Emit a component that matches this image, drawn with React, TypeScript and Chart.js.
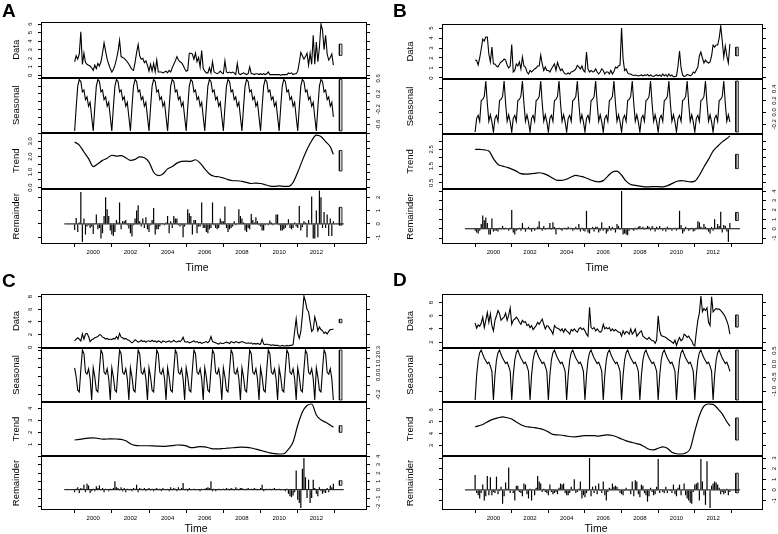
import { useEffect, useRef } from 'react';
import { Chart, registerables } from 'chart.js';

Chart.register(...registerables);

const FONT = 'Liberation Sans';
const INK = '#000000';
const RANGE_FILL = '#d3d3d3';

const START_YEAR = 1999;
const TREND_STEP = 0.25;
const yearTicks = [2000, 2002, 2004, 2006, 2008, 2010, 2012];
const rowTitles = ['Data', 'Seasonal', 'Trend', 'Remainder'];

// ---------------- Panel A ----------------
const dataA = [
  1.6, 2.3, 1.9, 2.5, 5.1, 1.3, 2.6, 1.5, 1.3, 1.2, 1.1, 0.9,
  0.6, 1.2, 0.8, 1.4, 1.1, 1.6, 2.6, 3.8, 2.8, 1.9, 1.3, 0.8,
  0.4, 0.7, 1.2, 1.9, 2.8, 4.1, 2.2, 2.1, 2.0, 1.8, 1.6, 1.3,
  1.0, 0.7, 0.6, 1.5, 2.7, 3.6, 2.3, 1.9, 2.0, 1.5, 1.7, 1.2,
  0.5, 1.3, 0.5, 1.4, 0.4, 1.8, 0.4, 0.4, 0.4, 0.3, 0.4, 0.5,
  0.3, 0.6, 0.4, 0.9, 1.3, 1.7, 2.2, 1.8, 1.6, 1.5, 1.2, 0.8,
  0.5, 0.6, 2.6, 2.6, 2.5, 1.9, 2.6, 1.6, 2.1, 1.0, 2.9, 0.8,
  0.5, 0.3, 0.3, 0.9, 0.3, 1.6, 0.4, 0.3, 0.2, 0.3, 0.5, 0.3,
  0.2, 1.7, 0.4, 0.3, 0.4, 0.3, 0.4, 0.3, 0.1, 1.4, 0.2, 0.1,
  0.2, 0.3, 0.2, 0.1, 0.2, 1.0, 0.2, 0.2, 0.1, 0.2, 0.2, 0.1,
  0.2, 0.1, 0.2, 0.1, 0.2, 0.4, 0.1, 0.1, 0.1, 0.1, 0.1, 0.1,
  0.1, 0.0, 0.1, 0.1, 0.1, 0.1, 0.3, 0.2, 0.3, 0.1, 0.2, 0.2,
  0.5, 1.5, 2.7, 2.3, 1.9, 2.2, 2.6, 1.2, 2.6, 1.3, 4.7, 1.3,
  3.9, 1.6, 3.3, 6.0, 5.3, 3.0, 4.7, 2.5, 1.8, 2.1, 2.5, 1.2,
];
const seasonalA = [-0.76, -0.15, 0.4, 0.57, 0.52, 0.25, 0.3, 0.05, 0.12, -0.12, -0.02, -0.4];
const trendA = [
  2.95, 2.75, 2.3, 1.87, 1.36, 1.54, 1.76, 1.9, 2.09, 2.04, 2.07, 1.93,
  1.76, 1.82, 1.98, 1.93, 1.65, 0.99, 0.77, 0.88, 1.21, 1.36, 1.58, 1.69,
  1.71, 1.69, 1.8, 1.58, 1.21, 0.88, 0.73, 0.7, 0.62, 0.51, 0.44, 0.44,
  0.4, 0.33, 0.26, 0.29, 0.26, 0.18, 0.09, 0.07, 0.11, 0.07, 0.07, 0.33,
  0.99, 1.76, 2.46, 3.03, 3.4, 3.3, 2.97, 2.64, 2.15,
];
const remainderA = [
  -0.45, 0.45, -0.6, 0.1, 2.4, -1.35, 0.4, -0.8, -0.2, -0.1, -0.3, -0.2,
  -0.75, 0.05, 0.7, -0.4, -0.3, -1.1, -0.7, 0.6, 2.0, 1.1, 0.6, -0.5,
  -0.8, -0.9, -0.6, 0.3, 0.1, 1.6, -0.4, 0.2, 0.2, 0.3, -0.1, -0.35,
  -0.7, -0.95, -0.1, 0.4, 1.0, 1.4, 0.2, -0.2, 0.4, -0.3, 0.5, -0.4,
  -0.6, -0.1, 0.3, 1.2, -0.8, -0.4, -0.4, -0.2, 0.05, 0.05, -0.1, 0.1,
  0.6, -0.7, 0.2, -0.3, 0.6, 0.4, 0.4, -0.1, -0.2, -0.1, -1.0, -0.2,
  0.0, 1.1, 0.8, 0.6, -0.8, 0.3, 0.3, -0.7, -0.2, -0.2, 1.6, -0.3,
  -0.3, -0.6, -0.7, -0.4, -0.3, 1.6, -0.1, -0.3, -0.4, -0.3, 0.4, 0.2,
  0.2, 1.3, -0.3, -0.6, -0.4, -0.3, -0.2, 0.2, -0.1, 0.0, 1.1, 0.6,
  0.4, 0.1, -0.5, -0.6, -0.3, -0.4, 0.75, 0.3, 0.1, 0.5, 0.2, -0.1,
  -0.2, -0.5, -0.5, -0.1, 0.0, -0.1, 0.25, 0.1, -0.1, 0.0, 0.7, 0.7,
  -0.1, -0.5, -0.5, -0.4, -0.3, -0.1, 0.35, -0.3, -0.4, -0.3, 0.1, -0.2,
  -0.3, 1.35, -0.5, -0.25, 0.2, 0.1, -1.0, 0.3, 0.0, 2.05, -1.1, -1.1,
  1.0, -1.0, 2.5, 2.0, -0.3, 0.9, -0.3, 0.7, -0.9, 0.4, -0.9, 0.2,
];
const dataTicksA = [0, 1, 2, 3, 4, 5, 6];
const dataLabelsA = [0, 1, 2, 3, 4, 5, 6];
const seasonalTicksA = [-0.6, -0.4, -0.2, 0, 0.2, 0.4, 0.6];
const seasonalLabelsA = [-0.6, -0.2, 0.2, 0.6];
const trendTicksA = [0, 0.5, 1, 1.5, 2, 2.5, 3, 3.5];
const trendLabelsA = [0, 1, 2, 3];
const remainderTicksA = [-1, 0, 1, 2];
const remainderLabelsA = [-1, 0, 1, 2];

// ---------------- Panel B ----------------
const dataB = [
  1.8, 1.75, 1.3, 2.0, 2.9, 3.9, 3.7, 4.1, 4.1, 2.4, 1.6, 3.1,
  1.4, 1.4, 1.2, 1.1, 1.4, 1.6, 1.7, 1.9, 1.8, 1.3, 1.0, 1.2,
  3.35, 0.6, 0.75, 1.4, 1.2, 1.6, 0.9, 2.1, 1.2, 1.1, 0.6, 0.4,
  0.75, 0.6, 0.75, 0.9, 1.0, 1.2, 1.2, 2.3, 1.4, 0.75, 1.1, 0.75,
  0.75, 0.6, 0.9, 1.15, 1.4, 0.75, 1.55, 1.1, 0.75, 0.9, 0.6, 0.4,
  0.4, 0.5, 0.4, 0.6, 0.65, 0.75, 0.9, 1.25, 1.1, 0.9, 1.2, 0.75,
  0.6, 2.6, 0.9, 0.6, 0.75, 0.6, 0.65, 0.9, 0.6, 0.4, 0.6, 0.9,
  0.75, 0.4, 0.6, 0.6, 0.4, 0.75, 0.4, 0.65, 1.1, 1.0, 1.2, 1.3,
  5.0, 1.9, 0.75, 0.9, 0.5, 0.4, 0.4, 0.3, 0.25, 0.3, 0.25, 0.2,
  0.25, 0.3, 0.2, 0.3, 0.25, 0.35, 0.2, 0.3, 0.2, 0.15, 0.25, 0.3,
  0.2, 0.3, 0.15, 0.4, 0.2, 0.35, 0.15, 0.4, 0.2, 0.3, 0.1, 0.15,
  0.2, 1.2, 2.7, 1.0, 0.3, 0.15, 0.2, 0.35, 0.3, 0.2, 0.3, 0.6,
  0.5, 0.8, 1.1, 2.2, 2.6, 2.0, 1.5, 1.8, 1.6, 1.5, 1.6, 2.2,
  3.3, 3.1, 3.3, 3.3, 4.0, 5.2, 3.7, 2.1, 3.2, 2.2, 1.5, 3.4,
];
const seasonalB = [-0.33, -0.1, -0.05, -0.15, 0.2, 0.22, 0.27, 0.53, 0.15, -0.15, -0.04, -0.16];
const trendB = [
  2.5, 2.5, 2.47, 2.4, 1.95, 1.6, 1.5, 1.42, 1.32, 1.2, 1.05, 1.02,
  1.03, 1.06, 1.1, 1.05, 0.93, 0.77, 0.65, 0.65, 0.72, 0.85, 0.94, 0.89,
  0.82, 0.7, 0.6, 0.56, 0.63, 0.9, 1.15, 1.2, 0.95, 0.6, 0.4, 0.35,
  0.3, 0.26, 0.26, 0.27, 0.27, 0.25, 0.32, 0.45, 0.58, 0.63, 0.6, 0.55,
  0.6, 0.95, 1.45, 1.9, 2.4, 2.69, 2.95, 3.15, 3.3,
];
const remainderB = [
  -0.2, -0.4, -0.5, -0.2, 0.5, 1.4, 0.9, 1.2, 0.6, -0.6, -0.6, 1.1,
  -0.3, -0.2, -0.2, -0.3, 0.1, -0.1, 0.3, -0.1, 0.1, 0.0, -0.2, 0.1,
  2.0, -0.4, -0.6, -0.2, -0.1, 0.1, -0.2, 0.6, 0.1, -0.3, 0.0, 0.2,
  -0.1, -0.3, 0.1, -0.2, 0.0, 0.2, 0.8, 0.1, -0.2, 0.3, -0.1, 0.0,
  0.1, 0.6, -0.1, 0.7, 0.2, -0.6, 0.0, 0.1, -0.1, -0.2, 0.0, 0.1,
  -0.1, 0.2, 0.0, 0.1, -0.2, -0.1, 0.2, -0.1, 0.5, -0.3, 0.1, -0.2,
  -0.3, 1.9, -0.4, -0.5, 0.0, 0.2, -0.3, 0.2, 0.2, -0.4, -0.2, 0.7,
  -0.2, 0.1, -0.5, -0.3, 0.3, -0.2, 0.2, -0.1, -0.4, 0.5, 0.3, -0.1,
  4.0, -0.6, -0.5, -0.6, -0.7, -0.2, 0.0, -0.1, -0.2, 0.1, -0.1, 0.2,
  0.3, 0.1, 0.2, -0.1, 0.1, 0.3, 0.2, -0.2, 0.3, 0.1, -0.3, 0.2,
  -0.1, 0.3, 0.0, -0.2, 0.1, -0.3, 0.2, -0.1, 0.1, -0.2, 0.0, 0.1,
  -0.2, 0.1, 1.9, 0.4, -0.5, -0.3, 0.2, 0.0, -0.2, -0.1, 0.1, -0.3,
  -0.2, 0.1, 0.8, 0.7, 0.2, 0.1, 0.5, 0.2, -0.1, -0.3, -0.5, 0.2,
  -0.2, 1.0, 0.1, 0.5, 0.3, 1.8, -0.4, 0.4, 0.3, -0.3, -1.4, 0.6,
];
const dataTicksB = [0, 1, 2, 3, 4, 5];
const dataLabelsB = [0, 1, 2, 3, 4, 5];
const seasonalTicksB = [-0.2, 0, 0.2, 0.4];
const seasonalLabelsB = [-0.2, 0, 0.2, 0.4];
const trendTicksB = [0.5, 1, 1.5, 2, 2.5, 3];
const trendLabelsB = [0.5, 1.5, 2.5];
const remainderTicksB = [-1, 0, 1, 2, 3, 4];
const remainderLabelsB = [-1, 0, 1, 2, 3, 4];

// ---------------- Panel C ----------------
const dataC = [
  1.0, 1.3, 1.5, 1.3, 1.0, 2.1, 1.3, 2.1, 2.2, 1.7, 0.9, 1.2,
  1.3, 1.5, 1.6, 1.7, 2.0, 1.9, 1.6, 1.5, 1.3, 1.4, 1.2, 1.3,
  1.2, 1.4, 1.3, 1.7, 1.3, 2.2, 1.6, 1.5, 1.3, 1.4, 1.2, 1.1,
  0.9, 0.7, 0.9, 1.2, 1.0, 0.8, 0.9, 1.1, 0.9, 1.0, 0.8, 1.0,
  1.0, 0.9, 1.1, 0.9, 1.0, 0.8, 1.0, 0.9, 0.7, 1.0, 0.9, 0.8,
  0.9, 1.0, 0.8, 0.9, 1.1, 0.9, 0.8, 1.0, 0.9, 1.1, 1.6, 0.9,
  0.8, 0.9, 0.7, 0.8, 0.9, 1.0, 0.8, 0.9, 0.7, 0.8, 0.6, 0.7,
  0.8, 0.9, 0.7, 1.0, 1.7, 0.9, 0.8, 0.7, 0.6, 0.5, 0.7, 0.6,
  0.6, 0.7, 0.8, 0.7, 0.6, 0.9, 0.8, 0.7, 0.9, 0.8, 0.7, 0.8,
  0.9, 0.8, 0.7, 0.6, 0.7, 0.6, 0.7, 0.5, 0.6, 0.5, 0.6, 0.5,
  0.5, 1.3, 0.5, 0.4, 0.5, 0.4, 0.4, 0.3, 0.4, 0.3, 0.3, 0.3,
  0.2, 0.2, 0.3, 0.2, 0.2, 0.3, 0.2, 0.3, 0.3, 0.4, 2.5, 4.5,
  2.2, 1.4, 2.5, 5.0, 8.1, 7.2, 6.0, 5.6, 4.0, 2.5, 2.8, 4.8,
  3.9, 2.6, 3.2, 2.8, 2.6, 2.2, 2.4, 2.1, 2.5, 2.8, 2.8, 2.9,
];
const seasonalC = [0.1, 0.0, -0.15, -0.17, 0.08, 0.3, 0.26, 0.05, 0.03, 0.09, -0.02, -0.26];
const trendC = [
  1.37, 1.42, 1.48, 1.52, 1.54, 1.5, 1.44, 1.45, 1.46, 1.45, 1.42, 1.3,
  1.06, 0.92, 0.89, 0.89, 0.89, 0.87, 0.85, 0.84, 0.86, 0.9, 0.95, 0.94,
  0.88, 0.74, 0.76, 0.82, 0.8, 0.7, 0.62, 0.62, 0.66, 0.69, 0.72, 0.76,
  0.78, 0.76, 0.7, 0.6, 0.5, 0.4, 0.3, 0.23, 0.2, 0.22, 0.6, 1.2,
  2.6, 3.7, 4.25, 4.37, 3.45, 3.05, 2.85, 2.6, 2.43,
];
const remainderC = [
  -0.3, 0.1, 0.3, -0.4, 0.2, 0.1, 0.6, -0.3, 0.7, 0.5, -0.4, -0.2,
  0.1, -0.2, 0.4, 0.2, 0.5, -0.1, 0.2, -0.3, 0.1, 0.0, -0.2, 0.1,
  -0.1, 0.2, 1.0, 0.3, 0.2, -0.1, 0.3, -0.2, 0.2, -0.3, 0.1, -0.1,
  0.1, -0.2, 0.2, 0.1, 0.6, -0.3, 0.2, 0.1, -0.1, 0.2, -0.2, 0.1,
  0.2, -0.1, 0.1, -0.2, 0.1, 0.2, -0.1, 0.1, -0.2, 0.2, 0.0, -0.1,
  0.1, -0.2, 0.3, -0.1, 0.2, 0.1, -0.2, 0.3, -0.1, 0.2, 0.8, -0.1,
  0.1, -0.2, 0.2, -0.1, 0.0, 0.1, -0.1, 0.0, -0.1, -0.2, 0.1, 0.0,
  0.1, 0.2, 0.3, 0.2, 1.0, -0.2, 0.1, -0.2, -0.1, 0.1, -0.1, 0.0,
  0.1, -0.1, 0.2, 0.1, -0.1, 0.2, 0.1, -0.1, 0.3, 0.1, -0.1, 0.2,
  0.2, 0.1, -0.1, 0.1, 0.2, 0.0, 0.1, -0.1, 0.2, 0.1, -0.1, 0.0,
  0.2, 0.6, -0.2, -0.1, 0.1, 0.0, 0.1, -0.1, 0.1, 0.2, -0.1, 0.0,
  0.1, -0.1, 0.0, -0.1, -0.2, 0.1, -0.5, -0.8, -0.9, -0.7, -0.3, 2.3,
  -1.2, -1.6, -2.2, 2.5, 3.8, 1.5, -1.0, 1.2, -1.6, -1.0, 1.2, 0.2,
  -0.5, -0.8, 0.3, -0.2, -0.5, -0.3, -0.4, 0.2, -0.3, 0.5, 0.3, 0.7,
];
const dataTicksC = [0, 2, 4, 6, 8];
const dataLabelsC = [0, 2, 4, 6, 8];
const seasonalTicksC = [-0.2, -0.1, 0, 0.1, 0.2, 0.3];
const seasonalLabelsC = [-0.2, 0, 0.1, 0.2, 0.3];
const trendTicksC = [1, 2, 3, 4];
const trendLabelsC = [1, 2, 3, 4];
const remainderTicksC = [-2, -1, 0, 1, 2, 3, 4];
const remainderLabelsC = [-2, -1, 0, 1, 2, 3, 4];

// ---------------- Panel D ----------------
const dataD = [
  4.9, 4.1, 4.6, 4.4, 4.9, 5.8, 4.2, 5.3, 6.5, 5.0, 6.3, 4.5,
  3.7, 5.3, 6.0, 6.8, 6.3, 5.3, 5.6, 5.8, 6.4, 5.3, 6.1, 7.2,
  4.7, 5.3, 5.5, 5.8, 5.5, 5.0, 4.7, 5.3, 5.0, 5.1, 4.5, 4.7,
  4.2, 4.5, 3.9, 4.2, 4.5, 5.0, 4.7, 5.1, 5.5, 4.7, 4.0, 4.5,
  4.4, 4.0, 3.7, 3.2, 4.5, 4.2, 4.1, 4.0, 3.7, 4.0, 3.5, 4.0,
  3.7, 3.5, 3.2, 3.9, 3.7, 4.0, 3.7, 3.5, 4.0, 4.2, 3.9, 4.1,
  3.7, 3.2, 2.9, 7.3, 4.2, 4.0, 4.2, 3.7, 4.0, 3.7, 3.5, 3.7,
  4.7, 4.0, 4.2, 4.0, 4.2, 3.7, 4.0, 3.7, 3.9, 3.7, 3.5, 3.5,
  2.9, 3.7, 3.2, 3.6, 3.5, 3.2, 4.0, 3.2, 3.5, 4.0, 2.9, 3.2,
  3.5, 3.7, 2.9, 2.7, 2.5, 2.4, 2.7, 2.4, 2.2, 2.2, 1.8, 2.3,
  6.0, 3.7, 3.0, 2.9, 2.8, 2.7, 2.5, 2.3, 2.2, 2.0, 1.8, 2.3,
  1.5, 2.2, 2.7, 2.2, 2.4, 3.2, 3.0, 2.7, 2.9, 2.5, 2.2, 1.6,
  1.4, 3.5, 5.3, 6.4, 9.0, 6.6, 7.1, 6.8, 7.2, 5.0, 4.5, 8.9,
  6.6, 6.9, 7.1, 7.0, 7.0, 6.8, 6.5, 6.2, 5.8, 5.2, 4.5, 3.2,
];
const seasonalD = [-1.33, -0.42, 0.15, 0.42, 0.52, 0.36, 0.22, 0.12, 0.02, 0.07, -0.08, -0.27];
const trendD = [
  4.58, 4.68, 4.83, 5.05, 5.22, 5.32, 5.4, 5.33, 5.23, 4.97, 4.75, 4.6,
  4.55, 4.5, 4.43, 4.33, 4.15, 3.94, 3.9, 3.87, 3.8, 3.74, 3.73, 3.8,
  3.83, 3.84, 3.83, 3.8, 3.86, 3.9, 3.85, 3.72, 3.55, 3.4, 3.29, 3.2,
  3.1, 2.9, 2.7, 2.65, 2.78, 2.9, 2.78, 2.44, 2.32, 2.3, 2.38, 2.75,
  4.2, 5.5, 6.3, 6.48, 6.45, 6.1, 5.65, 5.0, 4.63,
];
const remainderD = [
  1.4, -0.3, -0.5, -0.8, -0.3, 0.5, -1.0, -0.6, 1.3, -0.5, 1.2, -0.5,
  -0.2, -0.3, 1.25, -0.4, -0.1, 0.3, -1.3, -0.6, 0.7, 0.1, 2.1, -0.3,
  0.0, -0.3, -1.0, 0.4, 0.4, -0.2, -0.3, -0.6, 0.6, 0.5, -0.4, -0.8,
  0.1, -1.0, 0.0, -0.5, 0.2, 1.3, 0.8, 0.6, -0.2, 0.1, -0.2, -0.3,
  -0.5, 0.5, -0.2, -0.4, -0.3, -0.2, -0.4, 0.2, 0.6, 0.5, 0.6, -0.3,
  -0.5, -0.5, -0.3, 0.3, -0.1, 1.0, -0.3, -0.2, 0.1, 0.8, -0.8, -0.5,
  -0.7, -0.3, -0.1, 3.0, -0.6, 0.3, -0.3, 0.4, -0.4, 0.6, -0.1, -0.3,
  0.8, -0.5, -1.0, -0.2, 0.2, 0.1, 0.6, 0.3, 0.4, 0.3, 0.1, -0.3,
  -0.4, -0.5, -0.1, 0.2, 0.0, -0.1, -0.4, 0.8, -0.6, 0.9, 0.8, -0.4,
  -0.7, 0.5, 0.4, -0.3, -0.5, -1.1, -0.6, 0.2, -0.2, -0.5, -0.4, 0.3,
  2.9, -0.3, 0.0, -0.2, -0.3, 0.3, -0.3, 0.0, -0.1, -0.3, 0.5, -0.4,
  -0.6, 0.2, 0.5, -0.5, 0.0, 0.6, -0.5, -0.8, -1.0, -1.2, -1.3, -0.2,
  0.5, 0.6, 0.7, -1.0, 2.9, 0.8, -0.5, -1.4, 2.7, 0.0, -1.7, 0.4,
  0.6, 0.8, 0.7, 0.5, 0.2, -0.4, -0.2, -0.4, -0.3, 0.1, -0.5, -0.2,
];
const dataTicksD = [2, 4, 6, 8];
const dataLabelsD = [2, 4, 6, 8];
const seasonalTicksD = [-1, -0.5, 0, 0.5];
const seasonalLabelsD = [-1, -0.5, 0, 0.5];
const trendTicksD = [3, 4, 5, 6];
const trendLabelsD = [3, 4, 5, 6];
const remainderTicksD = [-1, 0, 1, 2, 3];
const remainderLabelsD = [-1, 0, 1, 2, 3];

type Panel = {
  letter: string;
  data: number[];
  seasonal: number[];
  trend: number[];
  remainder: number[];
  ticks: number[][];
  labels: number[][];
  decimals: number[];
};

const panels: Panel[] = [
  { letter: 'A', data: dataA, seasonal: seasonalA, trend: trendA, remainder: remainderA,
    ticks: [dataTicksA, seasonalTicksA, trendTicksA, remainderTicksA],
    labels: [dataLabelsA, seasonalLabelsA, trendLabelsA, remainderLabelsA], decimals: [0, 1, 1, 0] },
  { letter: 'B', data: dataB, seasonal: seasonalB, trend: trendB, remainder: remainderB,
    ticks: [dataTicksB, seasonalTicksB, trendTicksB, remainderTicksB],
    labels: [dataLabelsB, seasonalLabelsB, trendLabelsB, remainderLabelsB], decimals: [0, 1, 1, 0] },
  { letter: 'C', data: dataC, seasonal: seasonalC, trend: trendC, remainder: remainderC,
    ticks: [dataTicksC, seasonalTicksC, trendTicksC, remainderTicksC],
    labels: [dataLabelsC, seasonalLabelsC, trendLabelsC, remainderLabelsC], decimals: [0, 1, 0, 0] },
  { letter: 'D', data: dataD, seasonal: seasonalD, trend: trendD, remainder: remainderD,
    ticks: [dataTicksD, seasonalTicksD, trendTicksD, remainderTicksD],
    labels: [dataLabelsD, seasonalLabelsD, trendLabelsD, remainderLabelsD], decimals: [0, 1, 0, 0] },
];

// ---------------- Layout (pixels) ----------------
type Layout = {
  left: number; top: number; leftW: number; rightW: number; padTop: number;
  titleX: number; letterX: number; letterY: number; timeX: number; timeY: number;
};
const CANVAS_W = 389;
const CANVAS_H = 272;
const X_AXIS_H = 28;
const TICK_LEN = 3;
const LABEL_GAP = 11;
const TICK_FONT = 6;
const TITLE_FONT = 9.5;

const layouts: Layout[] = [
  { left: 0, top: 0, leftW: 41, rightW: 22, padTop: 22, titleX: 16, letterX: 2, letterY: 0.5, timeX: 197, timeY: 266.5 },
  { left: 389, top: 0, leftW: 53, rightW: 15, padTop: 24, titleX: 21.5, letterX: 393, letterY: 0.5, timeX: 597, timeY: 267 },
  { left: 0, top: 266, leftW: 41, rightW: 22, padTop: 28, titleX: 16, letterX: 2, letterY: 270.8, timeX: 196, timeY: 527.5 },
  { left: 389, top: 266, leftW: 53, rightW: 15, padTop: 28, titleX: 21.5, letterX: 393, letterY: 269.8, timeX: 596, timeY: 527.5 },
];

let measureCtx: CanvasRenderingContext2D | null = null;
function textWidth(s: string, size: number) {
  if (!measureCtx) measureCtx = document.createElement('canvas').getContext('2d');
  if (!measureCtx) return s.length * size * 0.55;
  measureCtx.font = `normal ${size}px ${FONT}`;
  return measureCtx.measureText(s).width;
}
const fmt = (v: number, d: number) => (Math.abs(v) < 1e-12 ? 0 : v).toFixed(d);

const framePlugin = {
  id: 'stlFrames',
  afterDatasetsDraw(chart: any) {
    const { ctx, chartArea } = chart;
    ctx.save();
    ctx.strokeStyle = INK;
    ctx.lineWidth = 1;
    const x0 = Math.round(chartArea.left) + 0.5;
    const x1 = Math.round(chartArea.right) - 0.5;
    ['LD', 'LS', 'LT', 'LR'].forEach((id) => {
      const s = chart.scales[id];
      const y0 = Math.round(s.top) + 0.5;
      const y1 = Math.round(s.bottom) - 0.5;
      ctx.strokeRect(x0, y0, x1 - x0, y1 - y0);
    });
    ctx.restore();
  },
};

function buildConfig(p: Panel, lay: Layout) {
  const times = p.data.map((_, i) => START_YEAR + i / 12);
  const t0 = times[0];
  const t1 = times[times.length - 1];
  const span = t1 - t0;
  const xMin = t0 - 0.04 * span;
  const xMax = t1 + 0.04 * span;
  const seasonalFull = times.map((_, i) => p.seasonal[i % p.seasonal.length]);
  const trendTimes = p.trend.map((_, i) => Math.min(t0 + i * TREND_STEP, t1));

  const ids = ['D', 'S', 'T', 'R'];
  const rowValues = [p.data, seasonalFull, p.trend, p.remainder];
  const labelSide = ['left', 'right', 'left', 'right'];
  const ranges = rowValues.map((v) => [Math.min(...v), Math.max(...v)]);
  const mx = Math.min(...ranges.map(([lo, hi]) => hi - lo));

  const gridOpts = { drawOnChartArea: false, drawTicks: true, tickLength: TICK_LEN, color: INK, lineWidth: 1 };

  const scales: any = {
    x: {
      type: 'linear', position: 'bottom', min: xMin, max: xMax, bounds: 'data',
      afterBuildTicks: (s: any) => { s.ticks = yearTicks.map((v) => ({ value: v })); },
      afterFit: (s: any) => { s.height = X_AXIS_H; },
      ticks: { font: { size: TICK_FONT, family: FONT }, color: INK, padding: 1.5, maxRotation: 0, minRotation: 0, autoSkip: false, callback: (v: number) => String(v) },
      grid: gridOpts,
      border: { display: false },
    },
  };

  ids.forEach((id, i) => {
    const [lo, hi] = ranges[i];
    const pad = 0.04 * (hi - lo);
    const min = lo - pad;
    const max = hi + pad;
    const tickVals = p.ticks[i].filter((v) => v >= min - 1e-9 && v <= max + 1e-9);
    const labels = p.labels[i];
    const dec = p.decimals[i];
    const widest = Math.max(0, ...labels.map((v) => textWidth(fmt(v, dec), TICK_FONT)));
    const isLabel = (v: number) => labels.some((l) => Math.abs(l - v) < 1e-9);
    const mk = (pos: 'left' | 'right', weight: number) => ({
      type: 'linear', position: pos, stack: pos === 'left' ? 'stackLeft' : 'stackRight', stackWeight: 1, weight,
      min, max, bounds: 'data',
      afterBuildTicks: (s: any) => { s.ticks = tickVals.map((v) => ({ value: v })); },
      afterFit: (s: any) => { s.width = pos === 'left' ? lay.leftW : lay.rightW; },
      ticks: {
        display: labelSide[i] === pos, autoSkip: false, minRotation: 90, maxRotation: 90, crossAlign: 'center',
        padding: LABEL_GAP - TICK_LEN - widest / 2,
        font: { size: TICK_FONT, family: FONT }, color: INK,
        callback: (v: number) => (isLabel(v) ? fmt(v, dec) : ''),
      },
      grid: gridOpts,
      border: { display: false },
      title: pos === 'left'
        ? { display: true, text: rowTitles[i], color: INK, font: { size: TITLE_FONT, family: FONT }, padding: { top: lay.titleX - (TITLE_FONT * 1.2) / 2, bottom: 0 } }
        : { display: false },
    });
    scales['L' + id] = mk('left', 4 - i);
    scales['R' + id] = mk('right', i + 1);
  });

  const lineBase = { borderColor: INK, borderWidth: 1.1, pointRadius: 0, pointHoverRadius: 0, fill: false };
  const datasets: any[] = [
    { ...lineBase, type: 'line', yAxisID: 'LD', data: times.map((t, i) => ({ x: t, y: p.data[i] })), tension: 0 },
    { ...lineBase, type: 'line', yAxisID: 'LS', data: times.map((t, i) => ({ x: t, y: seasonalFull[i] })), tension: 0 },
    { ...lineBase, type: 'line', yAxisID: 'LT', data: trendTimes.map((t, i) => ({ x: t, y: p.trend[i] })), cubicInterpolationMode: 'monotone', borderWidth: 1.2 },
    { type: 'bar', yAxisID: 'LR', data: times.map((t, i) => ({ x: t, y: p.remainder[i] })), backgroundColor: INK, borderWidth: 0, barThickness: 1.2, inflateAmount: 0 },
    { ...lineBase, type: 'line', yAxisID: 'LR', borderWidth: 1, data: [{ x: xMin, y: 0 }, { x: xMax, y: 0 }], tension: 0 },
  ];

  const dx = (xMax - xMin) / 64;
  const rx1 = xMax - dx;
  const rx2 = xMax - 0.4 * dx;
  ids.forEach((id, i) => {
    const [lo, hi] = ranges[i];
    const yc = (lo + hi) / 2;
    const y0 = yc - mx / 2;
    const y1 = yc + mx / 2;
    datasets.push({
      type: 'line', yAxisID: 'L' + id,
      data: [{ x: rx1, y: y0 }, { x: rx2, y: y0 }, { x: rx2, y: y1 }, { x: rx1, y: y1 }, { x: rx1, y: y0 }],
      borderColor: INK, borderWidth: 0.8, backgroundColor: RANGE_FILL, fill: 'shape',
      pointRadius: 0, pointHoverRadius: 0, tension: 0,
    });
  });

  return {
    type: 'line',
    data: { datasets },
    options: {
      responsive: false,
      animation: false,
      devicePixelRatio: 1,
      events: [],
      layout: { padding: { top: lay.padTop, left: 0, right: 0, bottom: 0 } },
      plugins: { legend: { display: false }, tooltip: { enabled: false }, title: { display: false } },
      scales,
    },
    plugins: [framePlugin],
  };
}

function PanelChart({ panel, lay }: { panel: Panel; lay: Layout }) {
  const ref = useRef<HTMLCanvasElement | null>(null);
  useEffect(() => {
    if (!ref.current) return;
    const chart = new Chart(ref.current, buildConfig(panel, lay) as any);
    return () => chart.destroy();
  }, [panel, lay]);
  return (
    <>
      <canvas
        ref={ref}
        width={CANVAS_W}
        height={CANVAS_H}
        style={{ position: 'absolute', left: lay.left, top: lay.top, width: CANVAS_W, height: CANVAS_H }}
      />
      <div style={{ position: 'absolute', left: lay.letterX, top: lay.letterY, fontFamily: FONT, fontWeight: 700, fontSize: 19, lineHeight: 1, color: INK }}>
        {panel.letter}
      </div>
      <div style={{ position: 'absolute', left: lay.timeX, top: lay.timeY, transform: 'translate(-50%, -50%)', fontFamily: FONT, fontSize: 10.5, lineHeight: 1, whiteSpace: 'nowrap', color: INK }}>
        Time
      </div>
    </>
  );
}

export default function App() {
  return (
    <div style={{ position: 'fixed', left: 0, top: 0, width: 778, height: 534, background: '#ffffff', overflow: 'hidden' }}>
      {panels.map((p, i) => (
        <PanelChart key={p.letter} panel={p} lay={layouts[i]} />
      ))}
    </div>
  );
}
